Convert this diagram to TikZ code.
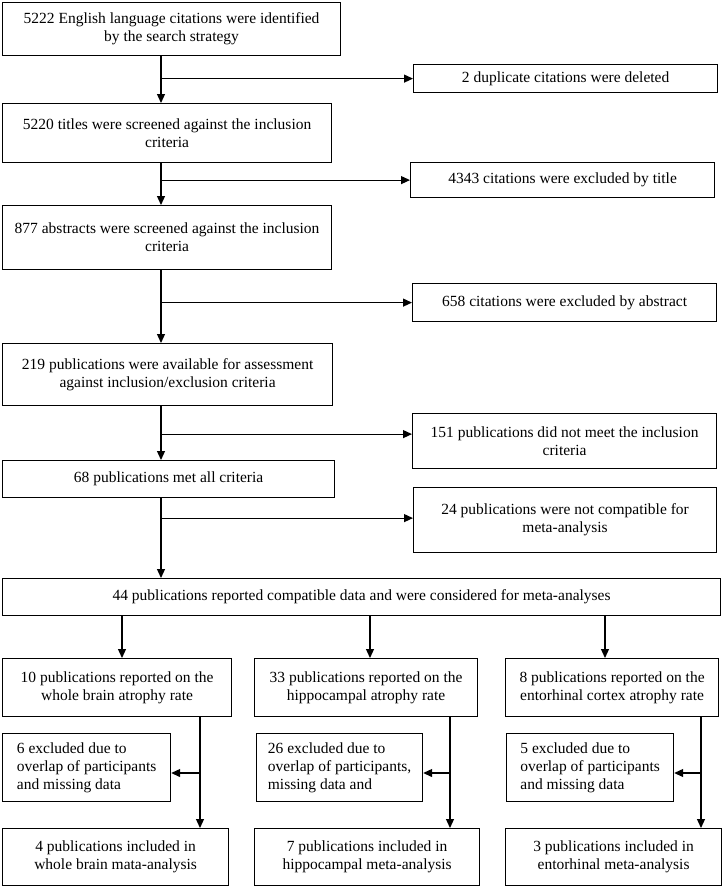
\documentclass[tikz,border=0pt]{standalone}
\usepackage{fontspec}
\setmainfont{Liberation Serif}
\usetikzlibrary{arrows.meta}
\usetikzlibrary{calc}

\begin{document}
\begin{tikzpicture}[x=1pt, y=-1pt, line cap=round,
    box/.style={draw, line width=1.2pt, anchor=north west, align=center, inner sep=2pt, font=\fontsize{15.5}{18}\selectfont},
    exbox/.style={box, align=left},
    arr/.style={line width=1.2pt, -{Triangle[length=9pt, width=8pt]}}]

    \useasboundingbox (0,0) rectangle (723,887);

    % main column
    \node[box, minimum width=338pt, minimum height=53pt] (search) at (2,2) {5222 English language citations were identified\\by the search strategy};
    \node[box, minimum width=329pt, minimum height=59pt] (titles) at (2,103) {5220 titles were screened against the inclusion\\criteria};
    \node[box, minimum width=329pt, minimum height=64pt] (abstracts) at (2,205) {877 abstracts were screened against the inclusion\\criteria};
    \node[box, minimum width=330pt, minimum height=62pt] (available) at (2,343) {219 publications were available for assessment\\against inclusion/exclusion criteria};
    \node[box, minimum width=332pt, minimum height=37pt] (metall) at (2,460) {68 publications met all criteria};
    \node[box, minimum width=718pt, minimum height=37pt] (compat) at (2,578) {44 publications reported compatible data and were considered for meta-analyses};

    % excluded on the right
    \node[box, minimum width=304pt, minimum height=28pt] (dup) at (413,64) {2 duplicate citations were deleted};
    \node[box, minimum width=304pt, minimum height=35pt] (bytitle) at (410,162) {4343 citations were excluded by title};
    \node[box, minimum width=304pt, minimum height=38pt] (byabstract) at (412,283) {658 citations were excluded by abstract};
    \node[box, minimum width=304pt, minimum height=55pt] (notmet) at (412,413) {151 publications did not meet the inclusion\\criteria};
    \node[box, minimum width=303pt, minimum height=65pt] (notcomp) at (413,487) {24 publications were not compatible for\\meta-analysis};

    % three analyses
    \node[box, minimum width=229pt, minimum height=58pt] (wholebrain) at (2,658) {10 publications reported on the\\whole brain atrophy rate};
    \node[box, minimum width=223pt, minimum height=58pt] (hippo) at (254,658) {33 publications reported on the\\hippocampal atrophy rate};
    \node[box, minimum width=213pt, minimum height=58pt] (ento) at (505,658) {8 publications reported on the\\entorhinal cortex atrophy rate};

    \node[exbox, minimum width=168pt, minimum height=68pt] (exwhole) at (2,733) {6 excluded due to\\overlap of participants\\and missing data};
    \node[exbox, minimum width=166pt, minimum height=68pt] (exhippo) at (256,733) {26 excluded due to\\overlap of participants,\\missing data and};
    \node[exbox, minimum width=167pt, minimum height=68pt] (exento) at (506,733) {5 excluded due to\\overlap of participants\\and missing data};

    \node[box, minimum width=226pt, minimum height=57pt] (inwhole) at (2,828) {4 publications included in\\whole brain mata-analysis};
    \node[box, minimum width=225pt, minimum height=57pt] (inhippo) at (254,828) {7 publications included in\\hippocampal meta-analysis};
    \node[box, minimum width=216pt, minimum height=57pt] (inento) at (505,828) {3 publications included in\\entorhinal meta-analysis};

    % connectors
    \coordinate (spine) at (161,0);
    \draw[arr] (search.south -| spine) -- (titles.north -| spine);
    \draw[arr] (titles.south -| spine) -- (abstracts.north -| spine);
    \draw[arr] (abstracts.south -| spine) -- (available.north -| spine);
    \draw[arr] (available.south -| spine) -- (metall.north -| spine);
    \draw[arr] (metall.south -| spine) -- (compat.north -| spine);

    \coordinate (nm) at ([yshift=7pt]notmet.west);
    \coordinate (nc) at ([yshift=2pt]notcomp.west);
    \draw[arr] (spine |- dup.west) -- (dup.west);
    \draw[arr] (spine |- bytitle.west) -- (bytitle.west);
    \draw[arr] (spine |- byabstract.west) -- (byabstract.west);
    \draw[arr] (spine |- nm) -- (nm);
    \draw[arr] (spine |- nc) -- (nc);

    \coordinate (sa) at (122,0);
    \coordinate (sb) at (370,0);
    \coordinate (sc) at (605,0);
    \draw[arr] (compat.south -| sa) -- (wholebrain.north -| sa);
    \draw[arr] (compat.south -| sb) -- (hippo.north -| sb);
    \draw[arr] (compat.south -| sc) -- (ento.north -| sc);

    \coordinate (da) at (200,773);
    \coordinate (db) at (450,773);
    \coordinate (dc) at (701,773);
    \draw[arr] (wholebrain.south -| da) -- (inwhole.north -| da);
    \draw[arr] (da) -- (exwhole.east |- da);
    \draw[arr] (hippo.south -| db) -- (inhippo.north -| db);
    \draw[arr] (db) -- (exhippo.east |- db);
    \draw[arr] (ento.south -| dc) -- (inento.north -| dc);
    \draw[arr] (dc) -- (exento.east |- dc);

\end{tikzpicture}
\end{document}
